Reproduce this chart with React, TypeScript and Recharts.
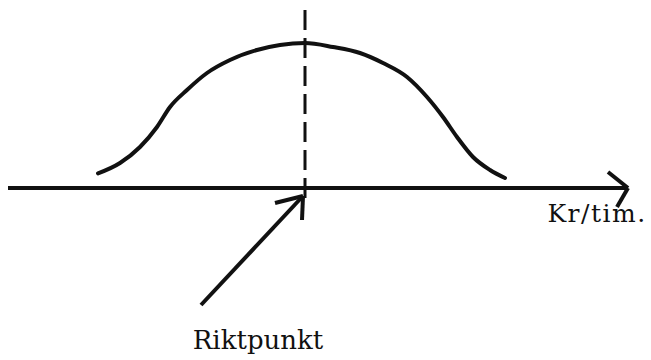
import { ComposedChart, Line, XAxis, YAxis, ReferenceLine, ReferenceDot } from "recharts";

// bell curve, x relative to the target point (Riktpunkt at 0)
const curveX = [
  -10.35, -9.25, -8.25, -7.4, -6.75, -5.9, -4.9, -3.75, -2.4, -1.25, 0,
  1.4, 2.75, 3.9, 5.1, 6.1, 6.9, 7.6, 8.4, 9.25, 10.0,
];
const curveY = [
  0.73, 1.25, 2.05, 3.05, 4.05, 4.9, 5.75, 6.4, 6.9, 7.15, 7.25,
  7.05, 6.75, 6.25, 5.55, 4.55, 3.55, 2.55, 1.55, 0.9, 0.5,
];

const riktpunkt = 0;
const axisStart = -14.85;
const axisEnd = 16.15;
const dashTop = 8.9;
const dashBottom = -0.6;
const pointerFrom = { x: -5.2, y: -5.85 };
const pointerTo = { x: -0.1, y: -0.4 };

const xDomain = [-15.25, 17.3];
const yDomain = [-8.6, 9.4];

const curveData = curveX.map((x, i) => ({ x, y: curveY[i] }));

const ink = "#111";
const serif = "DejaVu Serif, Liberation Serif, serif";

const App = () => {
  return (
    <div style={{ position: "absolute", left: 0, top: 0, width: 651, height: 360, background: "#fff" }}>
      <ComposedChart width={651} height={360} data={curveData} margin={{ top: 0, right: 0, left: 0, bottom: 0 }}>
        <XAxis type="number" dataKey="x" domain={xDomain} hide allowDataOverflow />
        <YAxis type="number" domain={yDomain} hide allowDataOverflow />
        <ReferenceLine
          segment={[{ x: riktpunkt, y: dashTop }, { x: riktpunkt, y: dashBottom }]}
          stroke={ink}
          strokeWidth={3}
          strokeDasharray="20 8"
        />
        <ReferenceLine segment={[{ x: axisStart, y: 0 }, { x: axisEnd, y: 0 }]} stroke={ink} strokeWidth={4} />
        <ReferenceLine segment={[{ x: 15.15, y: 0.8 }, { x: axisEnd, y: 0 }]} stroke={ink} strokeWidth={4} />
        <ReferenceLine segment={[{ x: axisEnd, y: 0 }, { x: 15.6, y: -0.95 }]} stroke={ink} strokeWidth={4} />
        <ReferenceLine segment={[pointerFrom, pointerTo]} stroke={ink} strokeWidth={4} />
        <ReferenceLine segment={[{ x: pointerTo.x - 1.4, y: pointerTo.y - 0.35 }, pointerTo]} stroke={ink} strokeWidth={4} />
        <ReferenceLine segment={[pointerTo, { x: pointerTo.x - 0.05, y: pointerTo.y - 1.2 }]} stroke={ink} strokeWidth={4} />
        <Line
          type="monotone"
          dataKey="y"
          stroke={ink}
          strokeWidth={4}
          strokeLinecap="round"
          dot={false}
          activeDot={false}
          isAnimationActive={false}
        />
        <ReferenceDot
          x={14.6}
          y={-1.25}
          r={0}
          label={{ value: "Kr/tim.", position: "center", fill: ink, fontSize: 25, fontFamily: serif, letterSpacing: 1.5 }}
        />
        <ReferenceDot
          x={-2.35}
          y={-7.6}
          r={0}
          label={{ value: "Riktpunkt", position: "center", fill: ink, fontSize: 26, fontFamily: serif }}
        />
      </ComposedChart>
    </div>
  );
};

export default App;
